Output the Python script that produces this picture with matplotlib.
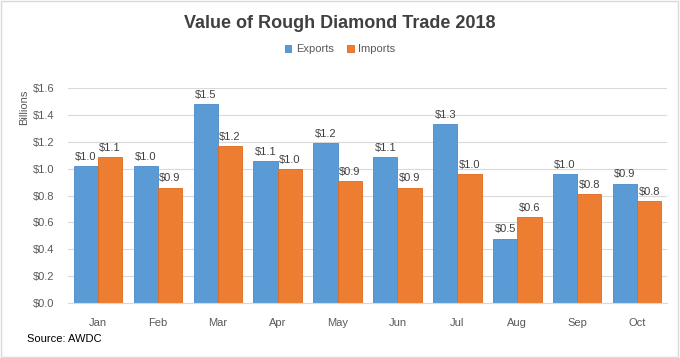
import matplotlib.pyplot as plt
import numpy as np
from matplotlib.patches import Rectangle

# datos
months = ['Jan', 'Feb', 'Mar', 'Apr', 'May', 'Jun', 'Jul', 'Aug', 'Sep', 'Oct']
exports = [1.02, 1.02, 1.48, 1.06, 1.19, 1.09, 1.33, 0.48, 0.96, 0.89]
imports = [1.09, 0.86, 1.17, 1.00, 0.91, 0.86, 0.96, 0.64, 0.81, 0.76]
yticks = [0.0, 0.2, 0.4, 0.6, 0.8, 1.0, 1.2, 1.4, 1.6]

plt.rcParams['font.family'] = ['Liberation Sans', 'DejaVu Sans']

fig = plt.figure(figsize=(6.8, 3.58), dpi=100)
ax = fig.add_axes([0.1, 0.1536, 0.881, 0.6]) 

x = np.arange(len(months))
w = 0.405
b1 = ax.bar(x - w/2, exports, w, color='#5B9BD5', edgecolor='#4A8AC8', linewidth=0.6, label='Exports', zorder=2)
b2 = ax.bar(x + w/2, imports, w, color='#ED7D31', edgecolor='#E06A1E', linewidth=0.6, label='Imports', zorder=2)

# etiquetas de datos
for bars, vals in [(b1, exports), (b2, imports)]:
    for r, v in zip(bars, vals):
        ax.annotate(f'${v:.1f}', (r.get_x() + r.get_width()/2, v), xytext=(0, 3),
                    textcoords='offset points', ha='center', va='bottom',
                    fontsize=8, color='#404040', clip_on=False)

ax.set_xlim(-0.5, len(months) - 0.5)
ax.set_ylim(0, 1.6)
ax.set_yticks(yticks)
ax.set_yticklabels([f'${t:.1f}' for t in yticks])
ax.set_xticks(x)
ax.set_xticklabels(months)
ax.tick_params(length=0, labelsize=8, colors='#595959')
ax.tick_params(axis='x', pad=11)
ax.tick_params(axis='y', pad=10)
ax.grid(axis='y', color='#D9D9D9', linewidth=0.8, zorder=0)
for s in ['top', 'right', 'left']:
    ax.spines[s].set_visible(False)
ax.spines['bottom'].set_color('#D9D9D9')

fig.text(0.5, 0.935, 'Value of Rough Diamond Trade 2018', ha='center', va='center',
         fontsize=13, fontweight='bold', color='#404040')
fig.legend(loc='center', bbox_to_anchor=(0.5, 0.862), ncol=2, frameon=False,
           fontsize=8, handlelength=0.6, handleheight=0.6, handletextpad=0.4,
           columnspacing=1.2, labelcolor='#595959')
fig.text(0.036, 0.70, 'Billions', rotation=90, ha='center', va='center', fontsize=8, color='#595959')
fig.text(0.04, 0.053, 'Source: AWDC', ha='left', va='center', fontsize=8, color='black')

fig.patches.append(Rectangle((0.002, 0.003), 0.995, 0.994, transform=fig.transFigure,
                             fill=False, edgecolor='#D9D9D9', linewidth=1))

fig.savefig('out.png', dpi=100)
